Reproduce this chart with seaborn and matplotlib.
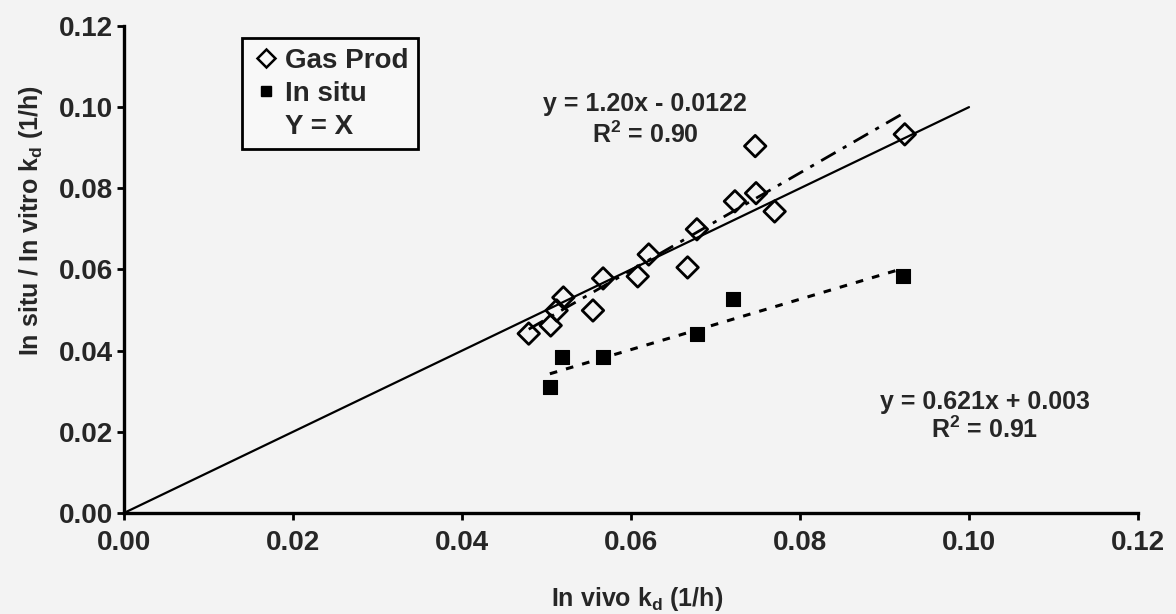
#In vivo vs in situ / in vitro degradation rate (kd) - scatter with fitted lines

import pandas as pd
import numpy as np
import matplotlib.pyplot as plt
import seaborn as sns
from matplotlib.lines import Line2D

sns.set_style('ticks')
plt.rcParams['font.family'] = ['Liberation Sans', 'DejaVu Sans']

# 1. Data

gas_invivo = [0.0479, 0.0505, 0.0512, 0.0520, 0.0555, 0.0567, 0.0608, 0.0621,
              0.0667, 0.0678, 0.0723, 0.0747, 0.0748, 0.0770, 0.0924]
gas_invitro = [0.0442, 0.0462, 0.0499, 0.0531, 0.0499, 0.0578, 0.0583, 0.0637,
               0.0605, 0.0699, 0.0768, 0.0904, 0.0788, 0.0743, 0.0933]

situ_invivo = [0.0504, 0.0518, 0.0567, 0.0678, 0.0721, 0.0922]
situ_kd = [0.0311, 0.0385, 0.0385, 0.0440, 0.0528, 0.0585]

# fitted equations as printed on the chart
gas_fit = (1.20, -0.0122)
situ_fit = (0.621, 0.003)
identity_x = [0.0, 0.10]

gas = pd.DataFrame({'invivo': gas_invivo, 'kd': gas_invitro})
situ = pd.DataFrame({'invivo': situ_invivo, 'kd': situ_kd})

# fit lines over the data range
gas_line = pd.DataFrame({'x': [min(gas_invivo), max(gas_invivo)]})
gas_line['y'] = gas_fit[0] * gas_line['x'] + gas_fit[1]
situ_line = pd.DataFrame({'x': [min(situ_invivo), max(situ_invivo)]})
situ_line['y'] = situ_fit[0] * situ_line['x'] + situ_fit[1]
ident = pd.DataFrame({'x': identity_x, 'y': identity_x})

# 2. Plot

fig = plt.figure(figsize=(11.76, 6.14), dpi=100, facecolor='#f3f3f3')
ax = fig.add_axes([0.1054, 0.1645, 0.8623, 0.7932])
ax.set_facecolor('#f3f3f3')

sns.lineplot(data=ident, x='x', y='y', color='black', linewidth=1.6, ax=ax)
sns.lineplot(data=gas_line, x='x', y='y', color='black', linewidth=2,
             linestyle=(0, (6, 3, 1.5, 3)), ax=ax)
sns.lineplot(data=situ_line, x='x', y='y', color='black', linewidth=2.2,
             linestyle=(0, (2.5, 3)), ax=ax)

sns.scatterplot(data=gas, x='invivo', y='kd', marker='D', s=120,
                facecolors='none', edgecolor='black', linewidth=2, ax=ax, zorder=3)
sns.scatterplot(data=situ, x='invivo', y='kd', marker='s', s=95,
                color='black', edgecolor='black', ax=ax, zorder=3)

ax.set_xlim(0, 0.12)
ax.set_ylim(0, 0.12)
ax.set_xticks(np.arange(0, 0.121, 0.02))
ax.set_yticks(np.arange(0, 0.121, 0.02))
ax.xaxis.set_major_formatter(plt.FormatStrFormatter('%.2f'))
ax.yaxis.set_major_formatter(plt.FormatStrFormatter('%.2f'))
ax.tick_params(labelsize=20, width=2, length=5, color='black')
ax.tick_params(axis='x', pad=7)
ax.tick_params(axis='y', pad=3)
for lab in ax.get_xticklabels() + ax.get_yticklabels():
    lab.set_fontweight('bold')
sns.despine(ax=ax)
for s in ['left', 'bottom']:
    ax.spines[s].set_linewidth(2.4)
    ax.spines[s].set_color('black')

ax.set_xlabel(r'In vivo k$_\mathregular{d}$ (1/h)', fontsize=18, fontweight='bold')
ax.set_ylabel(r'In situ / In vitro k$_\mathregular{d}$ (1/h)', fontsize=18, fontweight='bold')
ax.xaxis.set_label_coords(0.506, -0.148)
ax.yaxis.set_label_coords(-0.078, 0.60)

# equations
eq_font = dict(ha='center', va='center', fontsize=18, fontweight='bold')
ax.text(0.0617, 0.1007, 'y = 1.20x - 0.0122', **eq_font)
ax.text(0.0617, 0.0933, 'R$^\\mathregular{2}$ = 0.90', **eq_font)
ax.text(0.1019, 0.0274, 'y = 0.621x + 0.003', **eq_font)
ax.text(0.1019, 0.0205, 'R$^\\mathregular{2}$ = 0.91', **eq_font)

# legend
handles = [Line2D([], [], marker='D', linestyle='none', markerfacecolor='none',
                  markeredgecolor='black', markeredgewidth=1.8, markersize=9),
           Line2D([], [], marker='s', linestyle='none', color='black', markersize=6.5),
           Line2D([], [], linestyle='none')]
leg = ax.legend(handles, ['Gas Prod', 'In situ', 'Y = X'], loc='upper left',
                bbox_to_anchor=(0.1164, 0.975), prop={'size': 20, 'weight': 'bold'},
                frameon=True, fancybox=False, handlelength=1.0, handletextpad=0.2,
                borderpad=0.35, labelspacing=0.25, borderaxespad=0)
leg.get_frame().set_edgecolor('black')
leg.get_frame().set_linewidth(2)
leg.get_frame().set_facecolor('#f8f8f8')
leg.get_frame().set_alpha(1)

plt.savefig('out.png', dpi=100, facecolor=fig.get_facecolor())
